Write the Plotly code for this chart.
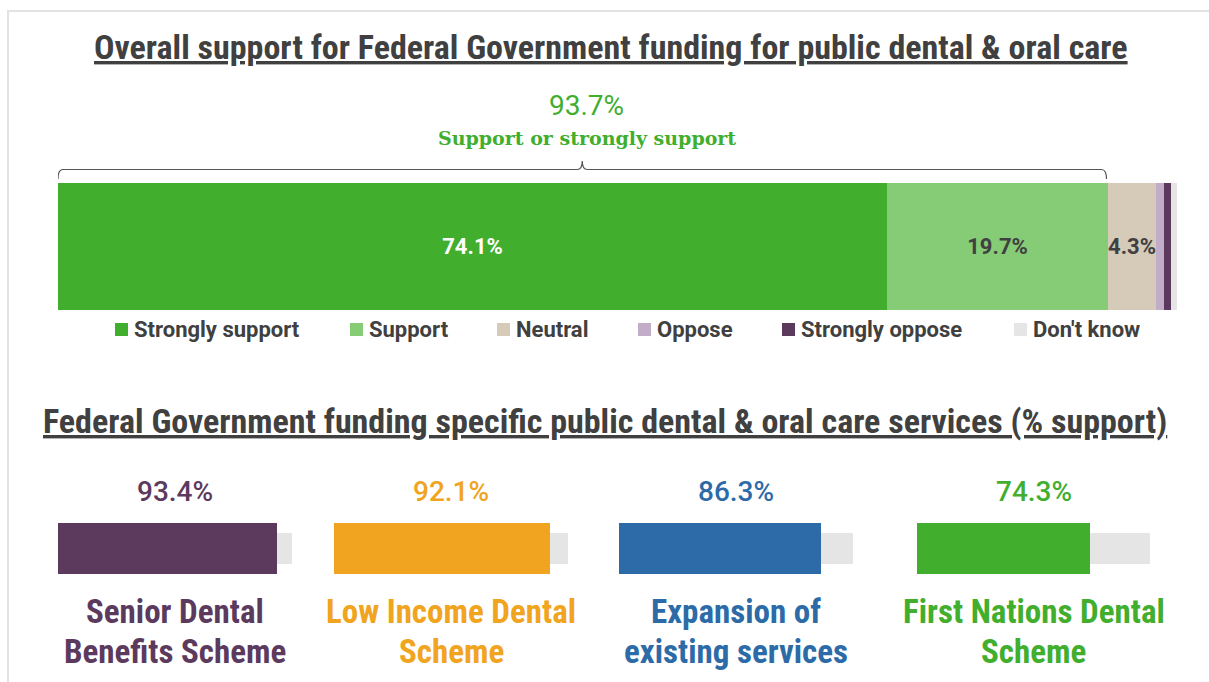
import plotly.graph_objects as go

# ---- data ----
response_labels = ["Strongly support", "Support", "Neutral", "Oppose", "Strongly oppose", "Don't know"]
response_values = [74.1, 19.7, 4.3, 0.7, 0.7, 0.5]
response_colors = ["#41AE2E", "#86CB75", "#D6CAB8", "#C1ADC8", "#5C3A5E", "#E5E5E5"]
support_total = 93.7

service_labels = ["Senior Dental<br>Benefits Scheme", "Low Income Dental<br>Scheme",
                  "Expansion of<br>existing services", "First Nations Dental<br>Scheme"]
service_values = [93.4, 92.1, 86.3, 74.3]
service_colors = ["#5C3A5E", "#F0A420", "#2C6BA7", "#41AE2E"]

# ---- canvas helpers (pixel -> paper coords) ----
W, H = 1209, 682
def px(x):
    return x / W
def py(y):
    return 1 - y / H

TXT = "#404040"
BASE_FONT = "Roboto, Arial, sans-serif"
NARROW_FONT = "Roboto Condensed, Liberation Sans Narrow, Roboto, sans-serif"

fig = go.Figure()

# ---- stacked overall-support bar ----
start = 0.0
seg_text_colors = ["white", TXT, TXT, TXT, TXT, TXT]
for lab, val, col, tcol in zip(response_labels, response_values, response_colors, seg_text_colors):
    fig.add_trace(go.Bar(
        x=[val], y=[0], base=[start], orientation="h", width=1,
        marker=dict(color=col, line=dict(width=0)),
        text=[f"{val:.1f}%" if val >= 2 else ""],
        textposition="inside", insidetextanchor="middle", constraintext="none",
        textangle=0,
        textfont=dict(family=BASE_FONT, size=22, color=tcol, weight="bold"),
        name=lab, showlegend=False, hoverinfo="skip",
        xaxis="x", yaxis="y",
    ))
    start += val

# ---- per-service bars (grey 100% track behind a coloured value bar) ----
service_domains = [(58, 292), (334, 568), (619, 853), (917, 1150)]
for i, (lab, val, col) in enumerate(zip(service_labels, service_values, service_colors)):
    ax = f"x{i + 2}"
    fig.add_trace(go.Bar(
        x=[100], y=[0], orientation="h", width=0.62,
        marker=dict(color="#E5E5E5", line=dict(width=0)),
        showlegend=False, hoverinfo="skip", xaxis=ax, yaxis="y2",
    ))
    fig.add_trace(go.Bar(
        x=[val], y=[0], orientation="h", width=1,
        marker=dict(color=col, line=dict(width=0)),
        showlegend=False, hoverinfo="skip", xaxis=ax, yaxis="y2",
    ))

hidden = dict(visible=False, fixedrange=True, showgrid=False, zeroline=False)
layout_axes = dict(
    xaxis=dict(domain=[px(58), px(1177)], range=[0, 100], anchor="y", **hidden),
    yaxis=dict(domain=[py(310), py(183)], range=[-0.5, 0.5], anchor="x", **hidden),
    yaxis2=dict(domain=[py(574), py(523)], range=[-0.5, 0.5], anchor="x2", **hidden),
)
for i, (a, b) in enumerate(service_domains):
    layout_axes[f"xaxis{i + 2}"] = dict(domain=[px(a), px(b)], range=[0, 100], anchor="y2", **hidden)

annotations = []
shapes = []

# panel border
shapes.append(dict(type="rect", xref="paper", yref="paper",
                   x0=px(8), x1=px(1240), y0=py(720), y1=py(11),
                   line=dict(color="#E3E3E3", width=2), fillcolor="rgba(0,0,0,0)", layer="below"))

# section titles
annotations.append(dict(
    text="<u>Overall support for Federal Government funding for public dental & oral care</u>",
    xref="paper", yref="paper", x=px(611), y=py(47), showarrow=False,
    xanchor="center", yanchor="middle",
    font=dict(family=NARROW_FONT, size=34, color=TXT, weight="bold")))
annotations.append(dict(
    text="<u>Federal Government funding specific public dental & oral care services (% support)</u>",
    xref="paper", yref="paper", x=px(605), y=py(421), showarrow=False,
    xanchor="center", yanchor="middle",
    font=dict(family=NARROW_FONT, size=34, color=TXT, weight="bold")))

# combined support callout with bracket
mid = support_total / 2
annotations.append(dict(
    text=f"{support_total:.1f}%", xref="x", yref="paper", x=mid + 0.4, y=py(106),
    showarrow=False, xanchor="center", yanchor="middle",
    font=dict(family=BASE_FONT, size=28, color="#41AE2E")))
annotations.append(dict(
    text="Support or strongly support", xref="x", yref="paper", x=mid + 0.4, y=py(138),
    showarrow=False, xanchor="center", yanchor="middle",
    font=dict(family="DejaVu Serif, serif", size=19, color="#41AE2E", weight="bold")))

ya, yl, yt = py(179), py(169.5), py(161)
d = 0.45
bracket = (f"M 0,{ya} Q 0,{yl} {d},{yl} L {mid - d},{yl} Q {mid},{yl} {mid},{yt} "
           f"Q {mid},{yl} {mid + d},{yl} L {support_total - d},{yl} "
           f"Q {support_total},{yl} {support_total},{ya}")
shapes.append(dict(type="path", xref="x", yref="paper", path=bracket,
                   line=dict(color="#555555", width=1.2)))

# legend row
legend_x = [115, 350, 497, 638, 782, 1014]
for lab, col, lx in zip(response_labels, response_colors, legend_x):
    shapes.append(dict(type="rect", xref="paper", yref="paper",
                       x0=px(lx), x1=px(lx + 13), y0=py(336), y1=py(323),
                       fillcolor=col, line=dict(width=0)))
    annotations.append(dict(
        text=lab, xref="paper", yref="paper", x=px(lx + 17), y=py(329.5),
        showarrow=False, xanchor="left", yanchor="middle",
        font=dict(family=BASE_FONT, size=22, color=TXT, weight="bold")))

# service value labels and two-line names
for i, (lab, val, col) in enumerate(zip(service_labels, service_values, service_colors)):
    dom = f"x{i + 2} domain"
    annotations.append(dict(
        text=f"{val:.1f}%", xref=dom, yref="paper", x=0.5, y=py(491),
        showarrow=False, xanchor="center", yanchor="middle",
        font=dict(family=BASE_FONT, size=28, color=col, weight=500)))
    for line, yline in zip(lab.split("<br>"), (611, 651)):
        annotations.append(dict(
            text=line, xref=dom, yref="paper", x=0.5, y=py(yline),
            showarrow=False, xanchor="center", yanchor="middle",
            font=dict(family=NARROW_FONT, size=33, color=col, weight="bold")))

fig.update_layout(
    width=W, height=H,
    margin=dict(l=0, r=0, t=0, b=0),
    paper_bgcolor="white", plot_bgcolor="rgba(0,0,0,0)",
    barmode="overlay", bargap=0,
    showlegend=False,
    annotations=annotations, shapes=shapes,
    **layout_axes,
)

fig.write_html("out.html", config={"displayModeBar": False})
